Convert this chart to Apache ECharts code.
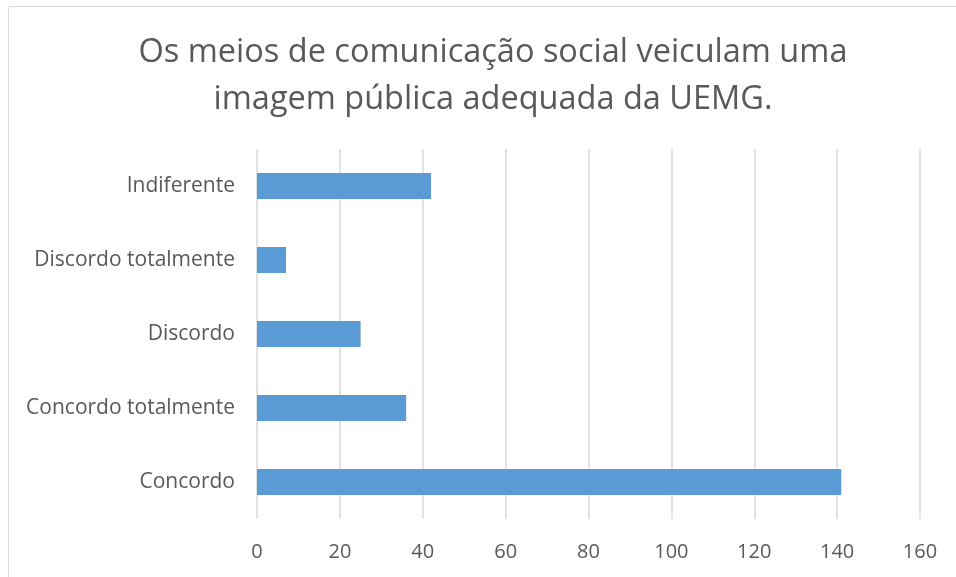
<!DOCTYPE html>
<html>
<head>
<meta charset="utf-8">
<script src="https://cdn.jsdelivr.net/npm/echarts@6/dist/echarts.min.js"></script>
<style>
    html, body {margin: 0; padding: 0; background: #fff;}
    #chart {width: 956px; height: 577px;}
</style>
</head>
<body>
<div id="chart"></div>
<script>
// categories, bottom to top as ECharts draws them
var categories = ["Concordo", "Concordo totalmente", "Discordo", "Discordo totalmente", "Indiferente"];
var counts = [141, 36, 25, 7, 42];
var xTicks = {min: 0, max: 160, step: 20};

var FONT = "'Open Sans', sans-serif";
var GREY = "#595959";

var chart = echarts.init(document.getElementById("chart"));

chart.setOption({
    animation: false,
    title: {
        text: "Os meios de comunicação social veiculam uma\nimagem pública adequada da UEMG.",
        left: 488,
        top: 24,
        textAlign: "center",
        textStyle: {
            fontFamily: FONT,
            fontSize: 32.5,
            fontWeight: "normal",
            color: GREY,
            lineHeight: 47,
            align: "center"
        }
    },
    // thin frame of the chart area
    graphic: [{
        type: "rect",
        shape: {x: 8.5, y: 6.5, width: 1000, height: 1000},
        style: {fill: null, stroke: "#d9d9d9", lineWidth: 1},
        silent: true
    }],
    grid: {left: 257, right: 36, top: 149, bottom: 58},
    xAxis: {
        type: "value",
        min: xTicks.min,
        max: xTicks.max,
        interval: xTicks.step,
        axisLine: {show: false},
        axisTick: {show: false},
        axisLabel: {fontFamily: FONT, fontSize: 20, color: GREY, margin: 23},
        splitLine: {show: true, lineStyle: {color: "#d9d9d9", width: 1.5}}
    },
    yAxis: {
        type: "category",
        data: categories,
        axisLine: {show: false},
        axisTick: {show: false},
        axisLabel: {fontFamily: FONT, fontSize: 21, color: GREY, margin: 22}
    },
    series: [{
        type: "bar",
        data: counts,
        barWidth: 26,
        itemStyle: {color: "#5B9BD5"}
    }]
});
</script>
</body>
</html>
